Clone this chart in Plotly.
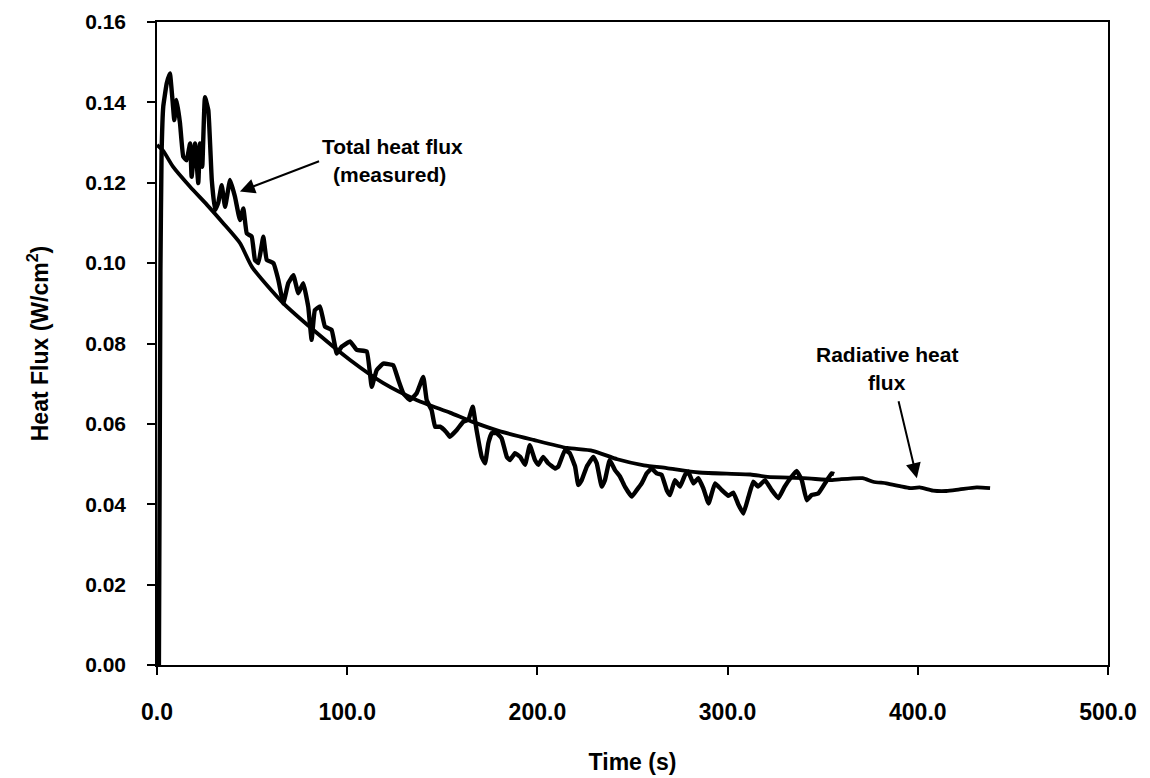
import plotly.graph_objects as go

# Total heat flux (measured)
measured_t = [1.0, 1.8, 2.4, 3.3, 5.1, 6.8, 8.0, 9.1, 10.3, 12.1, 13.8, 15.6, 17.4, 18.2, 20.0, 21.7, 22.6, 23.8,
              25.2, 27.0, 28.8, 30.5, 32.2, 34.0, 35.8, 38.4, 41.0, 43.6, 45.4, 47.2, 49.8, 51.5, 53.3, 55.9, 57.7,
              61.2, 63.8, 66.4, 69.0, 71.7, 74.3, 76.9, 79.5, 81.3, 83.0, 85.7, 88.3, 91.8, 94.5, 97.1, 101.5,
              105.0, 110.3, 112.9, 115.5, 119.0, 124.2, 126.9, 129.5, 133.0, 136.5, 140.0, 141.8, 144.4, 146.2,
              148.8, 152.0, 154.0, 157.6, 161.0, 163.7, 166.0, 168.0, 170.7, 172.5, 174.2, 176.0, 178.6, 181.2,
              183.9, 185.6, 188.2, 190.9, 193.5, 196.0, 198.7, 200.5, 203.0, 205.7, 209.3, 211.0, 214.5, 217.0,
              219.8, 221.5, 223.3, 226.0, 229.4, 231.2, 233.8, 235.5, 238.0, 240.8, 243.4, 246.0, 249.6, 252.2,
              254.8, 257.5, 260.0, 262.7, 265.3, 268.0, 269.7, 272.3, 275.0, 277.6, 279.3, 282.0, 284.6, 287.2,
              290.0, 293.4, 297.0, 300.4, 303.0, 305.6, 308.3, 311.0, 313.5, 316.0, 319.7, 323.2, 326.7, 330.0,
              333.7, 336.3, 339.0, 341.6, 344.2, 347.7, 351.2, 354.7, 356.0]
measured_v = [0.0, 0.098, 0.127, 0.139, 0.1447, 0.1472, 0.1414, 0.1356, 0.1406, 0.1348, 0.1265, 0.1256, 0.1298,
              0.1215, 0.1298, 0.1199, 0.1298, 0.124, 0.1413, 0.138, 0.1207, 0.1132, 0.115, 0.1194, 0.114, 0.1207,
              0.1165, 0.1107, 0.1136, 0.1074, 0.1066, 0.1008, 0.100, 0.1066, 0.1008, 0.100, 0.0958, 0.090, 0.095,
              0.097, 0.0925, 0.095, 0.0892, 0.0809, 0.0883, 0.0892, 0.0842, 0.0834, 0.0775, 0.0792, 0.0805,
              0.0784, 0.078, 0.0692, 0.0734, 0.075, 0.0746, 0.0709, 0.0676, 0.0659, 0.0676, 0.0717, 0.0659,
              0.0634, 0.0593, 0.0593, 0.058, 0.0568, 0.0585, 0.0605, 0.061, 0.0643, 0.0585, 0.0518, 0.0502,
              0.0552, 0.0577, 0.0577, 0.0564, 0.0518, 0.051, 0.0527, 0.0518, 0.0498, 0.0547, 0.051, 0.0498,
              0.0518, 0.0502, 0.0489, 0.0494, 0.0535, 0.0527, 0.0494, 0.0448, 0.046, 0.0494, 0.0518, 0.0502,
              0.0444, 0.046, 0.051, 0.0485, 0.0469, 0.0444, 0.0419, 0.0435, 0.0452, 0.0477, 0.0489, 0.0477,
              0.0473, 0.0435, 0.0423, 0.046, 0.0444, 0.0473, 0.0481, 0.0452, 0.0465, 0.044, 0.0402, 0.0452,
              0.0435, 0.0421, 0.0429, 0.040, 0.0377, 0.0419, 0.0456, 0.0444, 0.046, 0.0435, 0.0415, 0.0444,
              0.0469, 0.0483, 0.046, 0.041, 0.0423, 0.0427, 0.0452, 0.0477, 0.0475]

# Radiative heat flux
radiative_t = [0.0, 3.2, 8.4, 17.4, 26.3, 34.7, 43.6, 50.0, 66.2, 84.1, 101.5, 118.8, 136.7, 154.0, 166.0,
               180.0, 198.0, 215.6, 229.0, 242.0, 256.0, 268.0, 285.0, 312.0, 321.0, 340.0, 355.0, 359.0,
               371.0, 376.5, 383.5, 390.6, 396.0, 401.0, 408.0, 415.0, 422.0, 431.0, 438.0]
radiative_v = [0.1294, 0.128, 0.124, 0.119, 0.1145, 0.110, 0.105, 0.099, 0.0901, 0.0826, 0.0759, 0.0702,
               0.0659, 0.0628, 0.0605, 0.0582, 0.056, 0.054, 0.0533, 0.0512, 0.0497, 0.049, 0.0479, 0.0474,
               0.0468, 0.0465, 0.046, 0.0462, 0.0465, 0.0456, 0.0452, 0.0445, 0.044, 0.0442, 0.0434, 0.0433,
               0.0437, 0.0442, 0.044]

x_ticks = [0, 100, 200, 300, 400, 500]
x_tick_labels = ["0.0", "100.0", "200.0", "300.0", "400.0", "500.0"]
y_ticks = [0.00, 0.02, 0.04, 0.06, 0.08, 0.10, 0.12, 0.14, 0.16]
y_tick_labels = ["0.00", "0.02", "0.04", "0.06", "0.08", "0.10", "0.12", "0.14", "0.16"]

FONT = "Liberation Sans"

fig = go.Figure()
fig.add_trace(go.Scatter(x=radiative_t, y=radiative_v, mode="lines",
                         line=dict(color="black", width=3.8, shape="spline", smoothing=0.6),
                         showlegend=False, hoverinfo="skip"))
fig.add_trace(go.Scatter(x=measured_t, y=measured_v, mode="lines",
                         line=dict(color="black", width=4.4, shape="spline", smoothing=0.3),
                         showlegend=False, hoverinfo="skip"))

txt = dict(family=FONT, size=21, color="black")
fig.add_annotation(x=124, y=0.1290, text="<b>Total heat flux</b>", showarrow=False, font=txt)
fig.add_annotation(x=122, y=0.1220, text="<b>(measured)</b>", showarrow=False, font=txt)
fig.add_annotation(x=43.6, y=0.1178, ax=86, ay=0.1255, axref="x", ayref="y", text="",
                   showarrow=True, arrowhead=2, arrowsize=1.5, arrowwidth=2, arrowcolor="black")
fig.add_annotation(x=384, y=0.0772, text="<b>Radiative heat</b>", showarrow=False, font=txt)
fig.add_annotation(x=384, y=0.0704, text="<b>flux</b>", showarrow=False, font=txt)
fig.add_annotation(x=399.5, y=0.0465, ax=389.7, ay=0.0660, axref="x", ayref="y", text="",
                   showarrow=True, arrowhead=2, arrowsize=1.5, arrowwidth=2, arrowcolor="black")

axis_common = dict(showgrid=False, zeroline=False, showline=True, linecolor="black", linewidth=1.5,
                   mirror=True, ticks="outside", ticklen=8, tickcolor="black", tickwidth=1.5,
                   automargin=False)
fig.update_xaxes(range=[0, 500], tickvals=x_ticks, ticktext=["<b>%s</b>" % s for s in x_tick_labels],
                 tickfont=dict(family=FONT, size=23, color="black"), ticklabelstandoff=18,
                 title=dict(text="<b>Time (s)</b>", font=dict(family=FONT, size=23, color="black"), standoff=30),
                 **axis_common)
fig.update_yaxes(range=[0, 0.16], tickvals=y_ticks, ticktext=["<b>%s</b>" % s for s in y_tick_labels],
                 tickfont=dict(family=FONT, size=21, color="black"), ticklabelstandoff=17,
                 title=dict(text="<b>Heat Flux (W/cm<sup>2</sup>)</b>", font=dict(family=FONT, size=23, color="black"),
                            standoff=30),
                 **axis_common)
fig.update_layout(width=1150, height=778, margin=dict(l=157, r=42, t=22, b=113, autoexpand=False),
                  paper_bgcolor="white", plot_bgcolor="white")
fig.write_html("out.html")
